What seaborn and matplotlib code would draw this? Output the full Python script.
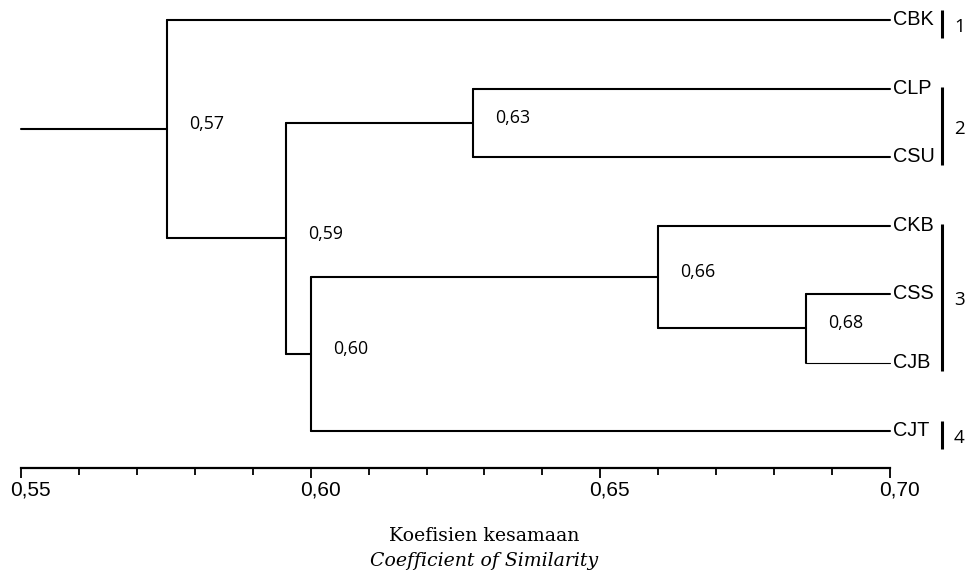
import matplotlib
matplotlib.use("Agg")
import matplotlib.pyplot as plt
from matplotlib.transforms import ScaledTranslation
from matplotlib.ticker import MultipleLocator, FixedLocator
import seaborn as sns
import pandas as pd
from matplotlib import font_manager

# ---------------- data ----------------
leaves = ["CBK", "CLP", "CSU", "CKB", "CSS", "CJB", "CJT"]
merge_a = ["CLP", "CSS", "CKB", "N3", "N1", "CBK"]
merge_b = ["CSU", "CJB", "N2", "CJT", "N4", "N5"]
merge_h = [0.628, 0.6855, 0.660, 0.600, 0.5957, 0.5752]
merge_label = ["0,63", "0,68", "0,66", "0,60", "0,59", "0,57"]
group_labels = ["1", "2", "3", "4"]
group_first = ["CBK", "CLP", "CKB", "CJT"]
group_last = ["CBK", "CSU", "CJB", "CJT"]
x_ticks = [0.55, 0.60, 0.65, 0.70]
x_ticklabels = ["0,55", "0,60", "0,65", "0,70"]
x_title_1 = "Koefisien kesamaan"
x_title_2 = "Coefficient of Similarity"
leaf_sim = 0.70
axis_min = 0.55

# ---------------- style ----------------
sns.set_style("white")
plt.rcParams["text.color"] = "black"
plt.rcParams["xtick.color"] = "black"
plt.rcParams["xtick.labelcolor"] = "black"
avail = {f.name for f in font_manager.fontManager.ttflist}
sans_tick = "Liberation Sans"
label_font = "Open Sans" if "Open Sans" in avail else "DejaVu Sans"

fig = plt.figure(figsize=(9.7, 5.74), dpi=100)
ax = fig.add_axes([21 / 970, 106 / 574, 869 / 970, 468 / 574])
ax.set_xlim(axis_min, leaf_sim)
ax.set_ylim(448 / 68.5, -20 / 68.5)

# ---------------- build dendrogram segments ----------------
pos = {name: (leaf_sim, float(i)) for i, name in enumerate(leaves)}
rows = []
thin_rows = []
seg = 0
node_info = []
for k, (a, b, h) in enumerate(zip(merge_a, merge_b, merge_h)):
    xa, ya = pos[a]
    xb, yb = pos[b]
    for (nm, x0, y0) in [(a, xa, ya), (b, xb, yb)]:
        target = thin_rows if nm == "CJB" else rows
        target += [dict(seg=seg, x=x0, y=y0), dict(seg=seg, x=h, y=y0)]
        seg += 1
    rows += [dict(seg=seg, x=h, y=ya), dict(seg=seg, x=h, y=yb)]
    seg += 1
    ym = (ya + yb) / 2
    pos[f"N{k + 1}"] = (h, ym)
    node_info.append((h, ym, merge_label[k]))

root_x, root_y = pos[f"N{len(merge_h)}"]
rows += [dict(seg=seg, x=axis_min, y=root_y), dict(seg=seg, x=root_x, y=root_y)]

df = pd.DataFrame(rows)
df_thin = pd.DataFrame(thin_rows)
sns.lineplot(data=df, x="x", y="y", units="seg", estimator=None, sort=False,
             color="black", linewidth=1.5, ax=ax, legend=False, clip_on=False)
sns.lineplot(data=df_thin, x="x", y="y", units="seg", estimator=None, sort=False,
             color="black", linewidth=0.8, ax=ax, legend=False, clip_on=False)

px = 1 / 5793.0  # one pixel in data units (x)

# node labels
for (h, ym, lab) in node_info:
    ax.text(h + 22 * px, ym - 0.07, lab, fontsize=12.8, family=label_font,
            ha="left", va="center", color="black")

# leaf labels
for i, name in enumerate(leaves):
    ax.text(leaf_sim + 3 * px, i - 0.03, name, fontsize=14.3, family=sans_tick,
            ha="left", va="center_baseline", color="black", clip_on=False)

# group bars and numbers
bar_x = leaf_sim + 52 * px
for g, f, l in zip(group_labels, group_first, group_last):
    i0, i1 = leaves.index(f), leaves.index(l)
    if i0 == i1:
        y0, y1 = i0 - 0.15, i1 + 0.26
    else:
        y0, y1 = i0 - 0.02, i1 + 0.12
    ax.plot([bar_x, bar_x], [y0, y1], color="black", lw=2.2, clip_on=False,
            solid_capstyle="butt")
    ax.text(bar_x + 12 * px, (y0 + y1) / 2 + 0.04, g, fontsize=13.5,
            family=label_font, ha="left", va="center", color="black")

# ---------------- axis ----------------
for s in ["top", "left", "right"]:
    ax.spines[s].set_visible(False)
ax.spines["bottom"].set_linewidth(1.6)
ax.spines["bottom"].set_color("black")
ax.set_yticks([])
ax.xaxis.set_major_locator(FixedLocator(x_ticks))
ax.xaxis.set_minor_locator(MultipleLocator(0.01))
ax.set_xticklabels(x_ticklabels, fontsize=15, family=sans_tick, color="black")
ax.tick_params(axis="x", which="major", direction="out", length=7.5, width=1.3,
               color="black", pad=1.5, bottom=True)
ax.tick_params(axis="x", which="minor", direction="out", length=5, width=1.3,
               color="black", bottom=True)
ax.set_xlabel("")
ax.set_ylabel("")
shift = ScaledTranslation(9.5 / 100, 0, fig.dpi_scale_trans)
for lab in ax.get_xticklabels():
    lab.set_transform(lab.get_transform() + shift)

fig.text(484 / 970, 1 - 536 / 574, x_title_1, family="DejaVu Serif",
         fontsize=13.6, ha="center", va="center", color="black")
fig.text(484 / 970, 1 - 561 / 574, x_title_2, family="DejaVu Serif",
         style="italic", fontsize=13.6, ha="center", va="center", color="black")

fig.savefig("out.png", dpi=100)
